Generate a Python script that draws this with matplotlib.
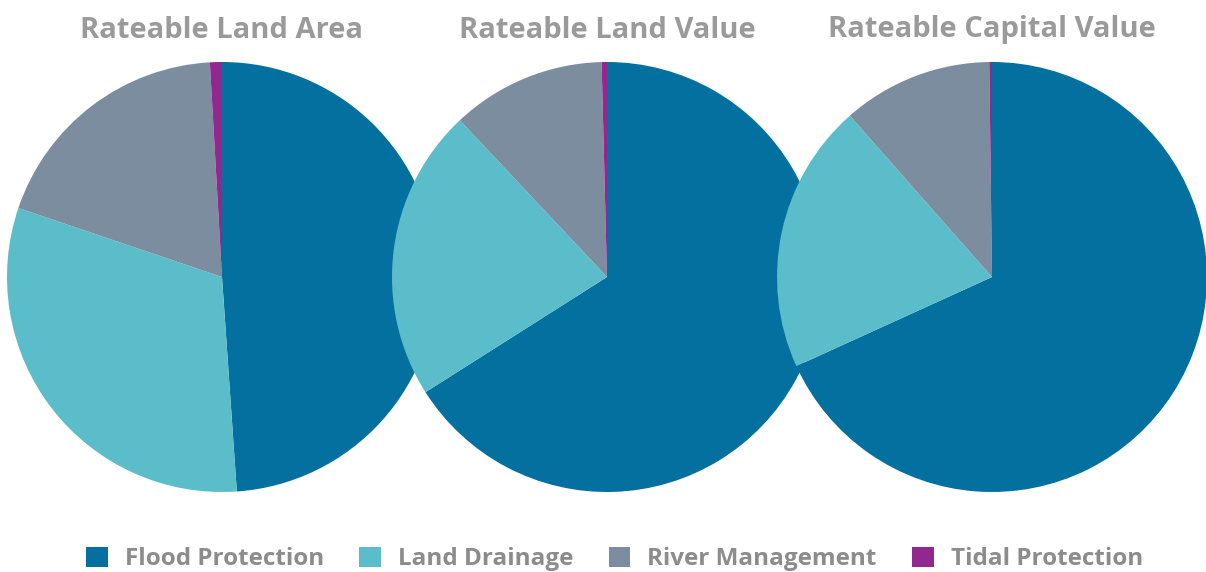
import matplotlib.pyplot as plt
from matplotlib.patches import Patch

# shares (%)
categories = ["Flood Protection", "Land Drainage", "River Management", "Tidal Protection"]
titles = ["Rateable Land Area", "Rateable Land Value", "Rateable Capital Value"]
land_area = [48.9, 31.3, 18.9, 0.9]
land_value = [66.0, 22.0, 11.6, 0.4]
capital_value = [68.2, 20.3, 11.3, 0.2]
colors = ["#03709f", "#5bbdca", "#7b8d9e", "#92278f"]

W, H = 1206, 572
fig = plt.figure(figsize=(W / 100, H / 100), dpi=100)
ax = fig.add_axes([0, 0, 1, 1])

centers = [222, 607, 992]
radius = 215
cy = H - 277

for cx, vals, title in zip(centers, [land_area, land_value, capital_value], titles):
    ax.pie(vals, colors=colors, startangle=90, counterclock=False,
           center=(cx, cy), radius=radius, frame=True,
           wedgeprops={"linewidth": 0})
    ax.text(cx, H - 30, title, ha="center", va="center", fontsize=21,
            fontweight="bold", color="#9a9a9a", family="Open Sans")

# pie() resets limits when frame=True, put them back
ax.set_xlim(0, W)
ax.set_ylim(0, H)
ax.set_aspect("equal")
ax.axis("off")

handles = [Patch(facecolor=c, edgecolor="none") for c in colors]
fig.legend(handles, categories, loc="center", bbox_to_anchor=(0.5095, 1 - 559 / H),
           ncol=4, frameon=False, handlelength=0.9, handleheight=0.9,
           columnspacing=1.45, handletextpad=0.7,
           labelcolor="#8c8c8c", prop={"family": "Open Sans", "weight": "bold", "size": 17.5})

fig.savefig("out.png", dpi=100)
